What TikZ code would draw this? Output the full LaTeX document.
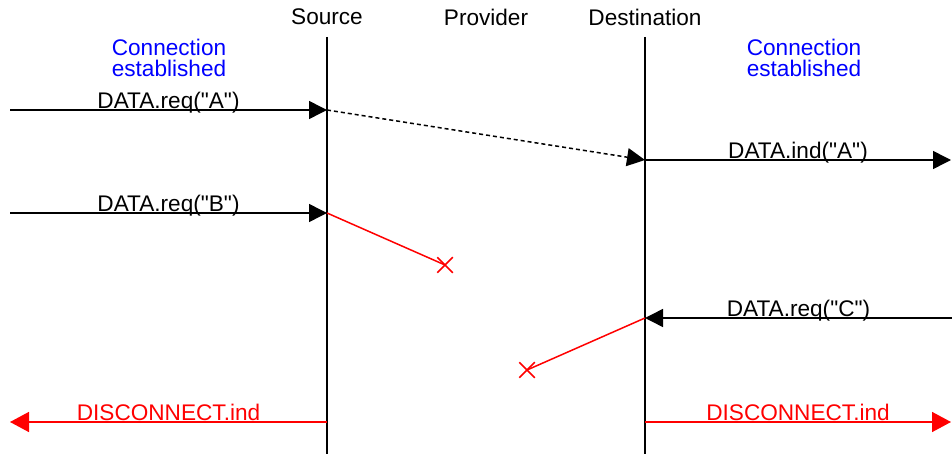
\documentclass[tikz,border=0pt]{standalone}
\usepackage{fontspec}
\setmainfont{Liberation Sans}[Ligatures=TeXOff]
\usetikzlibrary{arrows.meta,shapes.misc}

\begin{document}
\begin{tikzpicture}[
  x=0.5pt, y=-0.5pt,
  font=\fontsize{11.3}{10.5}\selectfont,
  life/.style={line width=1pt},
  msg/.style={line width=0.75pt, -{Triangle[length=9pt,width=9pt]}},
  lostmsg/.style={line width=0.75pt, red},
  loss/.style={cross out, draw=red, line width=0.75pt, minimum size=7pt, inner sep=0pt},
  disc/.style={line width=0.75pt, red, -{Triangle[length=9.5pt,width=10pt]}},
  lbl/.style={midway, anchor=base, yshift=0.6pt},
  note/.style={align=center, text=blue}
]
\useasboundingbox (0,0) rectangle (952,454);

\node (src) at (327,17) {Source};
\node (prov) at (486,17) {Provider};
\node (dst) at (645,17) {Destination};
\coordinate (srctop) at (327,37);
\coordinate (srcbot) at (327,454);
\coordinate (dsttop) at (645,37);
\coordinate (dstbot) at (645,454);
\draw[life] (srctop) -- (srcbot);
\draw[life] (dsttop) -- (dstbot);

\node[note] (connL) at (169,58) {Connection\\established};
\node[note] (connR) at (804,58) {Connection\\established};

\coordinate (inA) at (10,110);
\coordinate (srcA) at (327,110);
\coordinate (dstA) at (645,160);
\coordinate (outA) at (951,160);
\draw[msg] (inA) -- (srcA) node[lbl] {DATA.req("A")};
\draw[msg, dash pattern=on 2pt off 1.5pt] (srcA) -- (dstA);
\draw[msg] (dstA) -- (outA) node[lbl] {DATA.ind("A")};

\coordinate (inB) at (10,213);
\coordinate (srcB) at (327,213);
\node[loss] (lostB) at (445,265) {};
\draw[msg] (inB) -- (srcB) node[lbl] {DATA.req("B")};
\draw[lostmsg] (srcB) -- (lostB.center);

\coordinate (inC) at (952,318);
\coordinate (dstC) at (645,318);
\node[loss] (lostC) at (527,370) {};
\draw[msg] (inC) -- (dstC) node[lbl] {DATA.req("C")};
\draw[lostmsg] (dstC) -- (lostC.center);

\coordinate (srcD) at (327,422);
\coordinate (outL) at (10,422);
\coordinate (dstD) at (645,422);
\coordinate (outR) at (951,422);
\draw[disc] (srcD) -- (outL) node[lbl, text=red] {DISCONNECT.ind};
\draw[disc] (dstD) -- (outR) node[lbl, text=red] {DISCONNECT.ind};
\end{tikzpicture}
\end{document}
